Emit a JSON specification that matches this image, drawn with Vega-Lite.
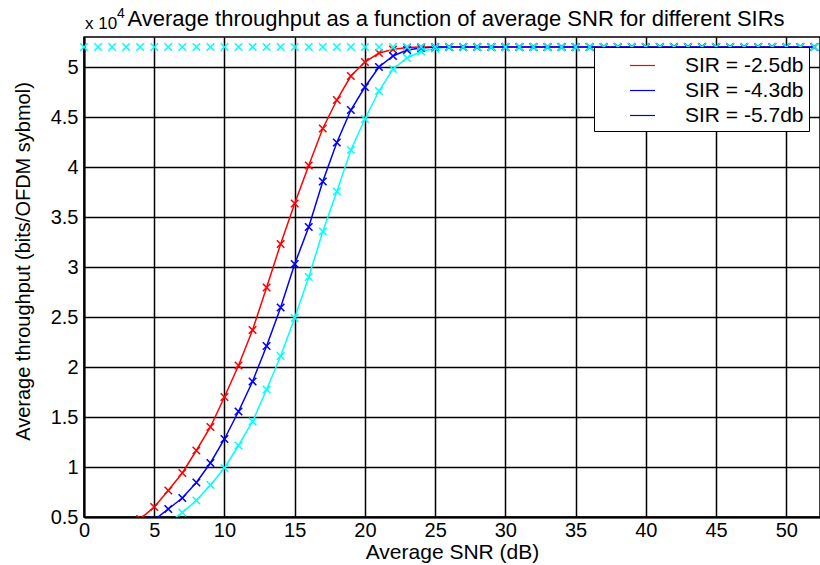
{
  "$schema": "https://vega.github.io/schema/vega-lite/v6.json",
  "width": 736,
  "height": 480,
  "autosize": {"type": "none"},
  "padding": {"left": 84, "top": 37, "right": 0, "bottom": 48},
  "background": "white",
  "title": {"text": "Average throughput as a function of average SNR for different SIRs", "font": "Liberation Sans", "fontSize": 22, "fontWeight": "normal", "color": "black", "anchor": "middle", "frame": "group", "offset": 5, "dx": 4, "dy": 29},
  "config": {
    "font": "Liberation Sans",
    "view": {"stroke": "black", "strokeWidth": 1.5},
    "axis": {"domainColor": "black", "domainWidth": 2, "gridColor": "black", "gridWidth": 1.5, "gridOpacity": 1, "ticks": false, "labelFont": "Liberation Sans", "labelFontSize": 20, "labelColor": "black", "titleFont": "Liberation Sans", "titleFontSize": 20, "titleFontWeight": "normal", "titleColor": "black"}
  },
  "datasets": {
    "curves": [
      {"s": "SIR = -5.7db", "x": 6, "y": 0.44}, {"s": "SIR = -5.7db", "x": 7, "y": 0.545}, {"s": "SIR = -5.7db", "x": 8, "y": 0.665}, {"s": "SIR = -5.7db", "x": 9, "y": 0.82}, {"s": "SIR = -5.7db", "x": 10, "y": 0.99}, {"s": "SIR = -5.7db", "x": 11, "y": 1.215}, {"s": "SIR = -5.7db", "x": 12, "y": 1.455}, {"s": "SIR = -5.7db", "x": 13, "y": 1.775}, {"s": "SIR = -5.7db", "x": 14, "y": 2.11}, {"s": "SIR = -5.7db", "x": 15, "y": 2.49}, {"s": "SIR = -5.7db", "x": 16, "y": 2.9}, {"s": "SIR = -5.7db", "x": 17, "y": 3.355}, {"s": "SIR = -5.7db", "x": 18, "y": 3.755}, {"s": "SIR = -5.7db", "x": 19, "y": 4.17}, {"s": "SIR = -5.7db", "x": 20, "y": 4.48}, {"s": "SIR = -5.7db", "x": 21, "y": 4.76}, {"s": "SIR = -5.7db", "x": 22, "y": 4.98}, {"s": "SIR = -5.7db", "x": 23, "y": 5.09}, {"s": "SIR = -5.7db", "x": 24, "y": 5.155}, {"s": "SIR = -5.7db", "x": 25, "y": 5.185}, {"s": "SIR = -5.7db", "x": 26, "y": 5.2}, {"s": "SIR = -5.7db", "x": 27, "y": 5.2}, {"s": "SIR = -5.7db", "x": 28, "y": 5.2}, {"s": "SIR = -5.7db", "x": 29, "y": 5.2}, {"s": "SIR = -5.7db", "x": 30, "y": 5.2}, {"s": "SIR = -5.7db", "x": 31, "y": 5.2}, {"s": "SIR = -5.7db", "x": 32, "y": 5.2}, {"s": "SIR = -5.7db", "x": 33, "y": 5.2}, {"s": "SIR = -5.7db", "x": 34, "y": 5.2}, {"s": "SIR = -5.7db", "x": 35, "y": 5.2}, {"s": "SIR = -5.7db", "x": 36, "y": 5.2}, {"s": "SIR = -5.7db", "x": 37, "y": 5.2}, {"s": "SIR = -5.7db", "x": 38, "y": 5.2}, {"s": "SIR = -5.7db", "x": 39, "y": 5.2}, {"s": "SIR = -5.7db", "x": 40, "y": 5.2}, {"s": "SIR = -5.7db", "x": 41, "y": 5.2}, {"s": "SIR = -5.7db", "x": 42, "y": 5.2}, {"s": "SIR = -5.7db", "x": 43, "y": 5.2}, {"s": "SIR = -5.7db", "x": 44, "y": 5.2}, {"s": "SIR = -5.7db", "x": 45, "y": 5.2}, {"s": "SIR = -5.7db", "x": 46, "y": 5.2}, {"s": "SIR = -5.7db", "x": 47, "y": 5.2}, {"s": "SIR = -5.7db", "x": 48, "y": 5.2}, {"s": "SIR = -5.7db", "x": 49, "y": 5.2}, {"s": "SIR = -5.7db", "x": 50, "y": 5.2}, {"s": "SIR = -5.7db", "x": 51, "y": 5.2}, {"s": "SIR = -5.7db", "x": 52, "y": 5.2},
      {"s": "SIR = -2.5db", "x": 4, "y": 0.48}, {"s": "SIR = -2.5db", "x": 5, "y": 0.6}, {"s": "SIR = -2.5db", "x": 6, "y": 0.765}, {"s": "SIR = -2.5db", "x": 7, "y": 0.94}, {"s": "SIR = -2.5db", "x": 8, "y": 1.165}, {"s": "SIR = -2.5db", "x": 9, "y": 1.4}, {"s": "SIR = -2.5db", "x": 10, "y": 1.7}, {"s": "SIR = -2.5db", "x": 11, "y": 2.015}, {"s": "SIR = -2.5db", "x": 12, "y": 2.37}, {"s": "SIR = -2.5db", "x": 13, "y": 2.795}, {"s": "SIR = -2.5db", "x": 14, "y": 3.23}, {"s": "SIR = -2.5db", "x": 15, "y": 3.635}, {"s": "SIR = -2.5db", "x": 16, "y": 4.015}, {"s": "SIR = -2.5db", "x": 17, "y": 4.385}, {"s": "SIR = -2.5db", "x": 18, "y": 4.67}, {"s": "SIR = -2.5db", "x": 19, "y": 4.91}, {"s": "SIR = -2.5db", "x": 20, "y": 5.05}, {"s": "SIR = -2.5db", "x": 21, "y": 5.14}, {"s": "SIR = -2.5db", "x": 22, "y": 5.175}, {"s": "SIR = -2.5db", "x": 23, "y": 5.195}, {"s": "SIR = -2.5db", "x": 24, "y": 5.2}, {"s": "SIR = -2.5db", "x": 25, "y": 5.2}, {"s": "SIR = -2.5db", "x": 26, "y": 5.2}, {"s": "SIR = -2.5db", "x": 27, "y": 5.2}, {"s": "SIR = -2.5db", "x": 28, "y": 5.2}, {"s": "SIR = -2.5db", "x": 29, "y": 5.2}, {"s": "SIR = -2.5db", "x": 30, "y": 5.2}, {"s": "SIR = -2.5db", "x": 31, "y": 5.2}, {"s": "SIR = -2.5db", "x": 32, "y": 5.2}, {"s": "SIR = -2.5db", "x": 33, "y": 5.2}, {"s": "SIR = -2.5db", "x": 34, "y": 5.2}, {"s": "SIR = -2.5db", "x": 35, "y": 5.2}, {"s": "SIR = -2.5db", "x": 36, "y": 5.2}, {"s": "SIR = -2.5db", "x": 37, "y": 5.2}, {"s": "SIR = -2.5db", "x": 38, "y": 5.2}, {"s": "SIR = -2.5db", "x": 39, "y": 5.2}, {"s": "SIR = -2.5db", "x": 40, "y": 5.2}, {"s": "SIR = -2.5db", "x": 41, "y": 5.2}, {"s": "SIR = -2.5db", "x": 42, "y": 5.2}, {"s": "SIR = -2.5db", "x": 43, "y": 5.2}, {"s": "SIR = -2.5db", "x": 44, "y": 5.2}, {"s": "SIR = -2.5db", "x": 45, "y": 5.2}, {"s": "SIR = -2.5db", "x": 46, "y": 5.2}, {"s": "SIR = -2.5db", "x": 47, "y": 5.2}, {"s": "SIR = -2.5db", "x": 48, "y": 5.2}, {"s": "SIR = -2.5db", "x": 49, "y": 5.2}, {"s": "SIR = -2.5db", "x": 50, "y": 5.2}, {"s": "SIR = -2.5db", "x": 51, "y": 5.2}, {"s": "SIR = -2.5db", "x": 52, "y": 5.2},
      {"s": "SIR = -4.3db", "x": 5, "y": 0.47}, {"s": "SIR = -4.3db", "x": 6, "y": 0.58}, {"s": "SIR = -4.3db", "x": 7, "y": 0.69}, {"s": "SIR = -4.3db", "x": 8, "y": 0.845}, {"s": "SIR = -4.3db", "x": 9, "y": 1.04}, {"s": "SIR = -4.3db", "x": 10, "y": 1.28}, {"s": "SIR = -4.3db", "x": 11, "y": 1.555}, {"s": "SIR = -4.3db", "x": 12, "y": 1.855}, {"s": "SIR = -4.3db", "x": 13, "y": 2.21}, {"s": "SIR = -4.3db", "x": 14, "y": 2.595}, {"s": "SIR = -4.3db", "x": 15, "y": 3.03}, {"s": "SIR = -4.3db", "x": 16, "y": 3.4}, {"s": "SIR = -4.3db", "x": 17, "y": 3.855}, {"s": "SIR = -4.3db", "x": 18, "y": 4.245}, {"s": "SIR = -4.3db", "x": 19, "y": 4.57}, {"s": "SIR = -4.3db", "x": 20, "y": 4.8}, {"s": "SIR = -4.3db", "x": 21, "y": 5.0}, {"s": "SIR = -4.3db", "x": 22, "y": 5.11}, {"s": "SIR = -4.3db", "x": 23, "y": 5.17}, {"s": "SIR = -4.3db", "x": 24, "y": 5.19}, {"s": "SIR = -4.3db", "x": 25, "y": 5.2}, {"s": "SIR = -4.3db", "x": 26, "y": 5.2}, {"s": "SIR = -4.3db", "x": 27, "y": 5.2}, {"s": "SIR = -4.3db", "x": 28, "y": 5.2}, {"s": "SIR = -4.3db", "x": 29, "y": 5.2}, {"s": "SIR = -4.3db", "x": 30, "y": 5.2}, {"s": "SIR = -4.3db", "x": 31, "y": 5.2}, {"s": "SIR = -4.3db", "x": 32, "y": 5.2}, {"s": "SIR = -4.3db", "x": 33, "y": 5.2}, {"s": "SIR = -4.3db", "x": 34, "y": 5.2}, {"s": "SIR = -4.3db", "x": 35, "y": 5.2}, {"s": "SIR = -4.3db", "x": 36, "y": 5.2}, {"s": "SIR = -4.3db", "x": 37, "y": 5.2}, {"s": "SIR = -4.3db", "x": 38, "y": 5.2}, {"s": "SIR = -4.3db", "x": 39, "y": 5.2}, {"s": "SIR = -4.3db", "x": 40, "y": 5.2}, {"s": "SIR = -4.3db", "x": 41, "y": 5.2}, {"s": "SIR = -4.3db", "x": 42, "y": 5.2}, {"s": "SIR = -4.3db", "x": 43, "y": 5.2}, {"s": "SIR = -4.3db", "x": 44, "y": 5.2}, {"s": "SIR = -4.3db", "x": 45, "y": 5.2}, {"s": "SIR = -4.3db", "x": 46, "y": 5.2}, {"s": "SIR = -4.3db", "x": 47, "y": 5.2}, {"s": "SIR = -4.3db", "x": 48, "y": 5.2}, {"s": "SIR = -4.3db", "x": 49, "y": 5.2}, {"s": "SIR = -4.3db", "x": 50, "y": 5.2}, {"s": "SIR = -4.3db", "x": 51, "y": 5.2}, {"s": "SIR = -4.3db", "x": 52, "y": 5.2}
    ],
    "top": [
      {"x": 0, "y": 5.2}, {"x": 1, "y": 5.2}, {"x": 2, "y": 5.2}, {"x": 3, "y": 5.2}, {"x": 4, "y": 5.2}, {"x": 5, "y": 5.2}, {"x": 6, "y": 5.2}, {"x": 7, "y": 5.2}, {"x": 8, "y": 5.2}, {"x": 9, "y": 5.2}, {"x": 10, "y": 5.2}, {"x": 11, "y": 5.2}, {"x": 12, "y": 5.2}, {"x": 13, "y": 5.2}, {"x": 14, "y": 5.2}, {"x": 15, "y": 5.2}, {"x": 16, "y": 5.2}, {"x": 17, "y": 5.2}, {"x": 18, "y": 5.2}, {"x": 19, "y": 5.2}, {"x": 20, "y": 5.2}, {"x": 21, "y": 5.2}, {"x": 22, "y": 5.2}, {"x": 23, "y": 5.2}, {"x": 24, "y": 5.2}, {"x": 25, "y": 5.2}, {"x": 26, "y": 5.2}, {"x": 27, "y": 5.2}, {"x": 28, "y": 5.2}, {"x": 29, "y": 5.2}, {"x": 30, "y": 5.2}, {"x": 31, "y": 5.2}, {"x": 32, "y": 5.2}, {"x": 33, "y": 5.2}, {"x": 34, "y": 5.2}, {"x": 35, "y": 5.2}, {"x": 36, "y": 5.2}, {"x": 37, "y": 5.2}, {"x": 38, "y": 5.2}, {"x": 39, "y": 5.2}, {"x": 40, "y": 5.2}, {"x": 41, "y": 5.2}, {"x": 42, "y": 5.2}, {"x": 43, "y": 5.2}, {"x": 44, "y": 5.2}, {"x": 45, "y": 5.2}, {"x": 46, "y": 5.2}, {"x": 47, "y": 5.2}, {"x": 48, "y": 5.2}, {"x": 49, "y": 5.2}, {"x": 50, "y": 5.2}, {"x": 51, "y": 5.2}, {"x": 52, "y": 5.2}
    ],
    "notes": [
      {"x": 0, "y": 5.3, "t": "x 10", "sup": "4"}
    ]
  },
  "encoding": {
    "x": {"field": "x", "type": "quantitative", "scale": {"domain": [0, 52.4], "nice": false, "zero": false}, "axis": {"values": [0, 5, 10, 15, 20, 25, 30, 35, 40, 45, 50], "title": "Average SNR (dB)", "titleFontSize": 21, "labelPadding": 3, "titlePadding": 1, "labelFlush": false}},
    "y": {"field": "y", "type": "quantitative", "scale": {"domain": [0.5, 5.3], "nice": false, "zero": false}, "axis": {"values": [0.5, 1, 1.5, 2, 2.5, 3, 3.5, 4, 4.5, 5], "format": "~g", "title": "Average throughput (bits/OFDM sybmol)", "labelPadding": 6, "titleX": -55, "titleY": 224, "titleBaseline": "alphabetic", "labelFlush": false}}
  },
  "layer": [
    {
      "data": {"name": "curves"},
      "mark": {"type": "line", "strokeWidth": 1.5, "clip": true},
      "encoding": {
        "color": {"field": "s", "type": "nominal",
          "scale": {"domain": ["SIR = -2.5db", "SIR = -4.3db", "SIR = -5.7db ", "SIR = -5.7db"], "range": ["#ff0000", "#0000ff", "#0000ff", "#00ffff"]},
          "legend": {"values": ["SIR = -2.5db", "SIR = -4.3db", "SIR = -5.7db "], "title": null, "orient": "none", "legendX": 510, "legendY": 10, "strokeColor": "black", "fillColor": "white", "padding": 5, "symbolType": "stroke", "symbolSize": 625, "symbolStrokeWidth": 1.2, "symbolOffset": 30, "labelFontSize": 21, "labelFont": "Liberation Sans", "labelColor": "black", "labelOffset": 29, "rowPadding": 1}},
        "order": {"field": "x", "type": "quantitative"}
      }
    },
    {
      "data": {"name": "curves"},
      "mark": {"type": "point", "shape": "M-1,-1L1,1M-1,1L1,-1", "filled": false, "size": 56, "strokeWidth": 1.6, "opacity": 1, "clip": true},
      "encoding": {
        "color": {"field": "s", "type": "nominal"}
      }
    },
    {
      "data": {"name": "top"},
      "mark": {"type": "point", "shape": "M-1,-1L1,1M-1,1L1,-1", "filled": false, "size": 56, "strokeWidth": 1.6, "opacity": 1, "color": "#00ffff"}
    },
    {
      "data": {"name": "notes"},
      "mark": {"type": "text", "align": "left", "baseline": "alphabetic", "fontSize": 17, "font": "Liberation Sans", "color": "black", "dx": 1, "dy": -8},
      "encoding": {"text": {"field": "t"}}
    },
    {
      "data": {"name": "notes"},
      "mark": {"type": "text", "align": "left", "baseline": "alphabetic", "fontSize": 14, "font": "Liberation Sans", "color": "black", "dx": 33, "dy": -19},
      "encoding": {"text": {"field": "sup"}}
    }
  ]
}
